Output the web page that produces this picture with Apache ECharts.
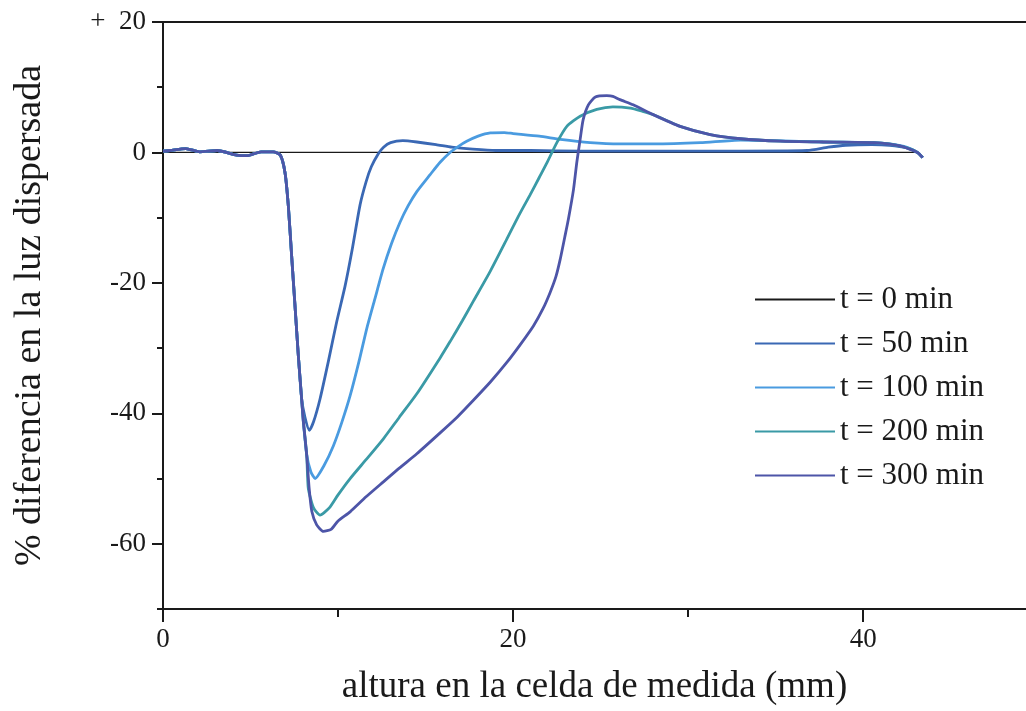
<!DOCTYPE html>
<html>
<head>
<meta charset="utf-8">
<script src="https://cdn.jsdelivr.net/npm/echarts@6/dist/echarts.min.js"></script>
<style>
html,body{margin:0;padding:0;background:#fff;}
#chart{width:1026px;height:711px;}
</style>
</head>
<body>
<div id="chart"></div>
<script>
// ---- data ----
const seriesNames = ['t = 0 min', 't = 50 min', 't = 100 min', 't = 200 min', 't = 300 min'];
const xMajorTicks = [0, 20, 40];
const xMinorTicks = [10, 30];
const yMajorTicks = [-60, -40, -20, 0, 20];
const yMinorTicks = [-70, -50, -30, -10, 10];

const t0 = [[0, 0], [43.1, 0]];

const t50 = [[0,0.2],[0.4,0.3],[1.3,0.6],[2.1,0.1],[3.1,0.3],[4.2,-0.4],[4.8,-0.5],[5.6,0.1],[6.3,0.1],[6.7,-0.4],
  [6.97,-3.1],[7.16,-8.2],[7.35,-15.9],[7.54,-23.5],[7.73,-31.1],[7.92,-37.8],[8.11,-40.6],[8.36,-42.6],
  [8.6,-41.3],[8.97,-37.8],[9.45,-32],[9.92,-26],[10.4,-20.5],[10.8,-15],[11.26,-8],[11.6,-4.5],[11.9,-2.2],
  [12.3,-0.2],[12.6,0.8],[13.0,1.5],[13.7,1.8],[14.5,1.6],[15.6,1.2],[16.5,0.8],[17.7,0.5],[19,0.3],[21,0.3],
  [24,0.2],[28,0.2],[32,0.2],[36.8,0.3],[38,0.8],[39,1.1],[40.5,1.2],[41.5,1.1],[42.5,0.7],[43.1,0],[43.4,-0.8]];

const t100 = [[0,0.2],[0.4,0.3],[1.3,0.6],[2.1,0.1],[3.1,0.3],[4.2,-0.4],[4.8,-0.5],[5.6,0.1],[6.3,0.1],[6.7,-0.4],
  [6.97,-3.1],[7.16,-8.2],[7.35,-15.9],[7.54,-23.5],[7.73,-31.1],[7.92,-37.8],[8.02,-41.3],[8.21,-46.4],
  [8.45,-49],[8.69,-50],[9.2,-48],[9.73,-45],[10.2,-41.5],[10.69,-37.3],[11.2,-32],[11.64,-27],[12.1,-22.5],
  [12.57,-17.9],[13.05,-14.0],[13.54,-10.7],[14.0,-8.2],[14.5,-6.0],[15.26,-3.4],[15.83,-1.5],[16.4,0],
  [16.86,0.9],[17.35,1.7],[18.0,2.5],[18.7,3.0],[19.5,3.05],[20.0,2.9],[21.5,2.5],[22.7,2.0],[24.4,1.5],
  [26.1,1.3],[28,1.3],[30.7,1.5],[33,1.9],[35,1.8],[37.7,1.6],[40.6,1.5],[41.5,1.3],[42.5,0.8],[43.1,0],[43.4,-0.8]];

const t200 = [[0,0.2],[0.4,0.3],[1.3,0.6],[2.1,0.1],[3.1,0.3],[4.2,-0.4],[4.8,-0.5],[5.6,0.1],[6.3,0.1],[6.7,-0.4],
  [6.97,-3.1],[7.16,-8.2],[7.35,-15.9],[7.54,-23.5],[7.73,-31.1],[7.92,-37.8],[8.02,-41.3],[8.21,-46.4],
  [8.3,-51.5],[8.6,-54.5],[8.97,-55.6],[9.5,-54.5],[10.0,-52.5],[10.69,-50],[11.6,-47.1],[12.59,-43.9],
  [13.5,-40.6],[14.5,-37.0],[15.83,-31.5],[16.4,-29],[17.1,-25.8],[17.73,-22.8],[18.7,-18.2],[19.64,-13.3],
  [20.3,-9.8],[20.97,-6.5],[21.5,-3.8],[21.93,-1.6],[22.5,1.5],[23.07,4.0],[23.83,5.55],[24.78,6.6],[25.7,7.0],
  [26.7,6.8],[27.4,6.3],[28,5.8],[29.54,4.0],[31.26,2.75],[33,2.1],[35.26,1.73],[37.7,1.6],[40.6,1.5],
  [41.5,1.3],[42.5,0.7],[43.1,0],[43.4,-0.8]];

const t300 = [[0,0.2],[0.4,0.3],[1.3,0.6],[2.1,0.1],[3.1,0.3],[4.2,-0.4],[4.8,-0.5],[5.6,0.1],[6.3,0.1],[6.7,-0.4],
  [6.97,-3.1],[7.16,-8.2],[7.35,-15.9],[7.54,-23.5],[7.73,-31.1],[7.92,-37.8],[8.02,-41.3],[8.21,-46.4],
  [8.35,-51.5],[8.5,-55],[8.78,-57.1],[9.16,-58.1],[9.6,-57.8],[10.0,-56.5],[10.69,-55.1],[11.6,-52.8],
  [12.59,-50.5],[13.5,-48.4],[14.5,-46.2],[15.83,-43.0],[16.8,-40.6],[17.73,-38.0],[18.7,-35.2],[19.64,-32.2],
  [20.4,-29.5],[21.16,-26.6],[21.7,-24],[22.11,-21.5],[22.45,-19],[22.69,-16.4],[22.95,-13],[23.16,-10.2],
  [23.45,-5.7],[23.64,-1.5],[23.83,2],[24.0,5],[24.3,7.3],[24.7,8.5],[25.35,8.7],[25.7,8.6],[26.1,8.1],
  [26.86,7.3],[28,5.8],[29.54,4.0],[31.26,2.75],[33,2.1],[35.26,1.73],[37.7,1.6],[40.6,1.5],[42.1,1.0],
  [43.1,0],[43.4,-0.8]];

const seriesData = [t0, t50, t100, t200, t300];
const seriesColors = ['#1a1a1a', '#3a68b4', '#4a9be0', '#3a9aa6', '#4d55a8'];
const seriesWidths = [1.2, 2.8, 2.8, 2.8, 2.8];

const X_MIN = 0, X_MAX = 49.3, Y_MIN = -70, Y_MAX = 20;
const FONT = '"Liberation Serif", "DejaVu Serif", serif';
const INK = '#1a1a1a';

const chart = echarts.init(document.getElementById('chart'), null, {renderer: 'canvas'});

const option = {
  animation: false,
  backgroundColor: '#ffffff',
  grid: {left: 163, right: 0, top: 22, bottom: 101, containLabel: false},
  legend: {
    orient: 'vertical',
    left: 750,
    top: 279,
    itemWidth: 80,
    itemHeight: 2,
    itemGap: 13,
    icon: 'rect',
    data: seriesNames,
    textStyle: {fontFamily: FONT, fontSize: 31, color: INK, lineHeight: 31},
    selectedMode: false
  },
  xAxis: [
    {
      type: 'value', position: 'bottom', min: X_MIN, max: X_MAX,
      name: 'altura en la celda de medida (mm)', nameLocation: 'middle', nameGap: 60,
      nameTextStyle: {fontFamily: FONT, fontSize: 37, color: INK},
      axisLine: {show: true, onZero: false, lineStyle: {color: INK, width: 2}},
      axisTick: {show: true, customValues: xMajorTicks, length: 13, lineStyle: {color: INK, width: 2}},
      axisLabel: {show: true, customValues: xMajorTicks, margin: 17, fontFamily: FONT, fontSize: 27, color: INK},
      splitLine: {show: false}
    },
    {
      type: 'value', position: 'bottom', min: X_MIN, max: X_MAX,
      axisLine: {show: false, onZero: false},
      axisTick: {show: true, customValues: xMinorTicks, length: 8, lineStyle: {color: INK, width: 2}},
      axisLabel: {show: false},
      splitLine: {show: false}
    },
    {
      type: 'value', position: 'top', min: X_MIN, max: X_MAX,
      axisLine: {show: true, onZero: false, lineStyle: {color: INK, width: 2}},
      axisTick: {show: false}, axisLabel: {show: false}, splitLine: {show: false}
    }
  ],
  yAxis: [
    {
      type: 'value', position: 'left', min: Y_MIN, max: Y_MAX,
      name: '% diferencia en la luz dispersada', nameLocation: 'middle', nameGap: 114,
      nameTextStyle: {fontFamily: FONT, fontSize: 38, color: INK},
      axisLine: {show: true, onZero: false, lineStyle: {color: INK, width: 2}},
      axisTick: {show: true, customValues: yMajorTicks, length: 11, lineStyle: {color: INK, width: 2}},
      axisLabel: {
        show: true, customValues: yMajorTicks, margin: 17, fontFamily: FONT, fontSize: 27, color: INK,
        formatter: v => (v === 20 ? '+  20' : String(v))
      },
      splitLine: {show: false}
    },
    {
      type: 'value', position: 'left', min: Y_MIN, max: Y_MAX,
      axisLine: {show: false, onZero: false},
      axisTick: {show: true, customValues: yMinorTicks, length: 6, lineStyle: {color: INK, width: 2}},
      axisLabel: {show: false},
      splitLine: {show: false}
    }
  ],
  series: seriesNames.map((name, i) => ({
    name: name,
    type: 'line',
    xAxisIndex: 0,
    yAxisIndex: 0,
    data: seriesData[i],
    showSymbol: false,
    symbol: 'none',
    smooth: 0.2,
    color: seriesColors[i],
    lineStyle: {color: seriesColors[i], width: seriesWidths[i]},
    z: 2 + i
  }))
};

chart.setOption(option);
</script>
</body>
</html>
